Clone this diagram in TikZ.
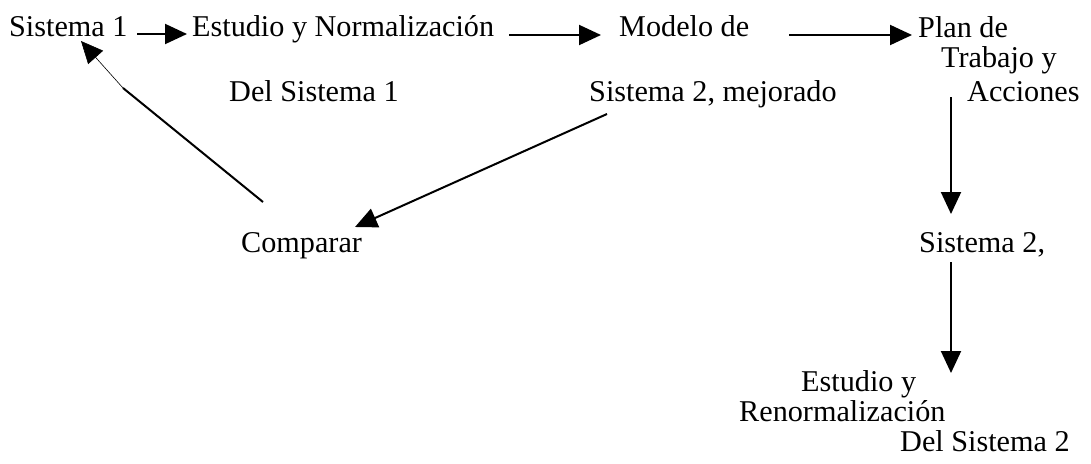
\documentclass[tikz,border=0pt]{standalone}
\usepackage{fontspec}
\setmainfont{Liberation Serif}
\usetikzlibrary{arrows.meta}
\tikzset{
  lbl/.style={anchor=base west, inner sep=0pt, font=\fontsize{30.2}{34}\selectfont},
  tip/.style={-{Triangle[length=22pt,width=20pt]}},
  conn/.style={line width=2pt, tip},
  thinconn/.style={line width=0.6pt, tip}
}
\begin{document}
\begin{tikzpicture}[x=1pt,y=-1pt]
\useasboundingbox (0,0) rectangle (1091,463);
\node[lbl] (s1) at (9,36) {Sistema 1};
\node[lbl] (e1) at (192,36) {Estudio y Normalización};
\node[lbl] (m1) at (619,36) {Modelo de};
\node[lbl] (p1) at (918,37) {Plan de};
\node[lbl] (p2) at (941,67) {Trabajo y};
\node[lbl] (p3) at (967,101) {Acciones};
\node[lbl] (d1) at (229,101) {Del Sistema 1};
\node[lbl] (m2) at (589,101) {Sistema 2, mejorado};
\node[lbl] (c) at (241,252) {Comparar};
\node[lbl] (s2) at (919,252) {Sistema 2,};
\node[lbl] (r1) at (801,391) {Estudio y};
\node[lbl] (r2) at (739,421) {Renormalización};
\node[lbl] (r3) at (900,451) {Del Sistema 2};
% connector end points
\coordinate (a1s) at (137,34);  \coordinate (a1e) at (187,34);
\coordinate (a2s) at (509,35);  \coordinate (a2e) at (601,35);
\coordinate (a3s) at (789,35);  \coordinate (a3e) at (912,35);
\coordinate (a4s) at (951,97);  \coordinate (a4e) at (951,214);
\coordinate (a5s) at (951,262); \coordinate (a5e) at (951,373);
\coordinate (a6s) at (607,114); \coordinate (a6e) at (355,227);
\coordinate (a7s) at (263,202); \coordinate (a7m) at (123,88); \coordinate (a7e) at (81,41);
\draw[conn] (a1s) -- (a1e);
\draw[conn] (a2s) -- (a2e);
\draw[conn] (a3s) -- (a3e);
\draw[conn] (a4s) -- (a4e);
\draw[conn] (a5s) -- (a5e);
\draw[conn] (a6s) -- (a6e);
\draw[line width=2pt] (a7s) -- (a7m);
\draw[thinconn] (a7m) -- (a7e);
\end{tikzpicture}
\end{document}
